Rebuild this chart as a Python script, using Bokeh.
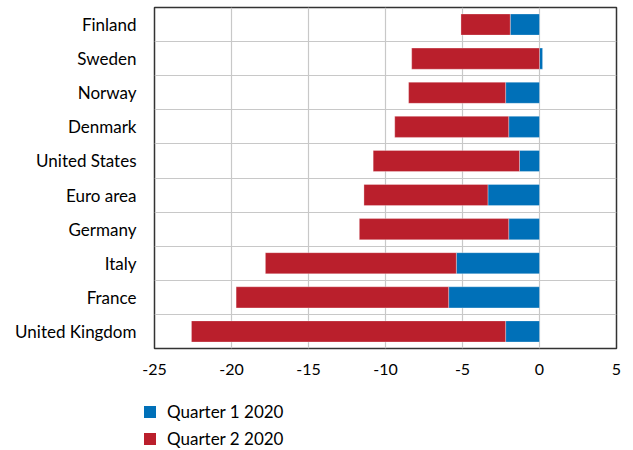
import numpy as np
from bokeh.plotting import figure
from bokeh.layouts import column, row
from bokeh.models import (ColumnDataSource, FixedTicker, Legend, LegendItem, Range1d)
from bokeh.embed import file_html
from bokeh.resources import INLINE

countries = ["Finland", "Sweden", "Norway", "Denmark", "United States",
             "Euro area", "Germany", "Italy", "France", "United Kingdom"]
q1_2020 = [-1.9, 0.2, -2.2, -2.0, -1.3, -3.35, -2.0, -5.4, -5.9, -2.2]
q2_2020 = [-3.2, -8.3, -6.3, -7.4, -9.5, -8.05, -9.7, -12.4, -13.8, -20.4]
x_ticks = [-25, -20, -15, -10, -5, 0, 5]
series_names = ["Quarter 1 2020", "Quarter 2 2020"]

BLUE = "#0070B8"
RED = "#BA1F2C"
FONT = "Lato"

n = len(countries)
ypos = np.arange(n)[::-1] + 0.5  # Finland on top
q1 = np.array(q1_2020)
q2 = np.array(q2_2020)
red_left = np.minimum(q1, 0)
red_right = red_left + q2

src = ColumnDataSource(dict(y=ypos, q1=q1, zero=np.zeros(n), rl=red_left, rr=red_right))

p = figure(width=625, height=392, output_backend="svg", toolbar_location=None,
           x_range=Range1d(x_ticks[0], x_ticks[-1]), y_range=Range1d(0, n),
           min_border_top=7, min_border_left=154, min_border_right=9,
           min_border_bottom=44)

bar_style = dict(height=0.62, line_color="white", line_width=0.6, line_alpha=0.5)
r1 = p.hbar(y="y", left="zero", right="q1", source=src, fill_color=BLUE, **bar_style)
r2 = p.hbar(y="y", left="rr", right="rl", source=src, fill_color=RED, **bar_style)

p.outline_line_color = "#333333"
p.outline_line_width = 1.5

p.xaxis.ticker = FixedTicker(ticks=x_ticks)
p.xaxis.major_label_overrides = {t: str(t) for t in x_ticks}
p.xaxis.axis_line_color = None
p.xaxis.major_tick_line_color = None
p.xaxis.minor_tick_line_color = None
p.xaxis.major_label_text_font = FONT
p.xaxis.major_label_text_font_size = "16px"
p.xaxis.major_label_text_color = "#000000"
p.xaxis.major_label_standoff = 9

p.yaxis.ticker = FixedTicker(ticks=list(ypos))
p.yaxis.major_label_overrides = {float(y): c for y, c in zip(ypos, countries)}
p.yaxis.axis_line_color = None
p.yaxis.major_tick_line_color = None
p.yaxis.minor_tick_line_color = None
p.yaxis.major_label_text_font = FONT
p.yaxis.major_label_text_font_size = "17px"
p.yaxis.major_label_text_color = "#000000"
p.yaxis.major_label_standoff = 12

p.xgrid.ticker = FixedTicker(ticks=x_ticks)
p.ygrid.ticker = FixedTicker(ticks=list(range(1, n)))
p.xgrid.grid_line_color = "#C8C8C8"
p.ygrid.grid_line_color = "#C8C8C8"
p.xgrid.grid_line_width = 1.2
p.ygrid.grid_line_width = 1.2

# legend strip below the chart: same series, its view window holds no bars
lg = figure(width=625, height=58, output_backend="svg", toolbar_location=None,
            x_range=Range1d(x_ticks[-1] + 10, x_ticks[-1] + 11),
            y_range=Range1d(n + 10, n + 11),
            min_border_top=0, min_border_left=0, min_border_right=0,
            min_border_bottom=0)
lg.axis.visible = False
lg.grid.visible = False
lg.outline_line_color = None
d1 = lg.hbar(y="y", left="zero", right="q1", source=src,
             fill_color=BLUE, height=0.62, line_color=None)
d2 = lg.hbar(y="y", left="rr", right="rl", source=src,
             fill_color=RED, height=0.62, line_color=None)
legend = Legend(items=[LegendItem(label=series_names[0], renderers=[d1]),
                       LegendItem(label=series_names[1], renderers=[d2])],
                orientation="vertical", location=(142, 1),
                glyph_width=15, glyph_height=15, label_standoff=10,
                spacing=6, padding=0, margin=0,
                label_text_font=FONT, label_text_font_size="17px",
                label_text_color="#000000",
                border_line_color=None, background_fill_alpha=0)
lg.add_layout(legend, "center")

open("out.html", "w").write(file_html(column(p, row(lg)), INLINE))
